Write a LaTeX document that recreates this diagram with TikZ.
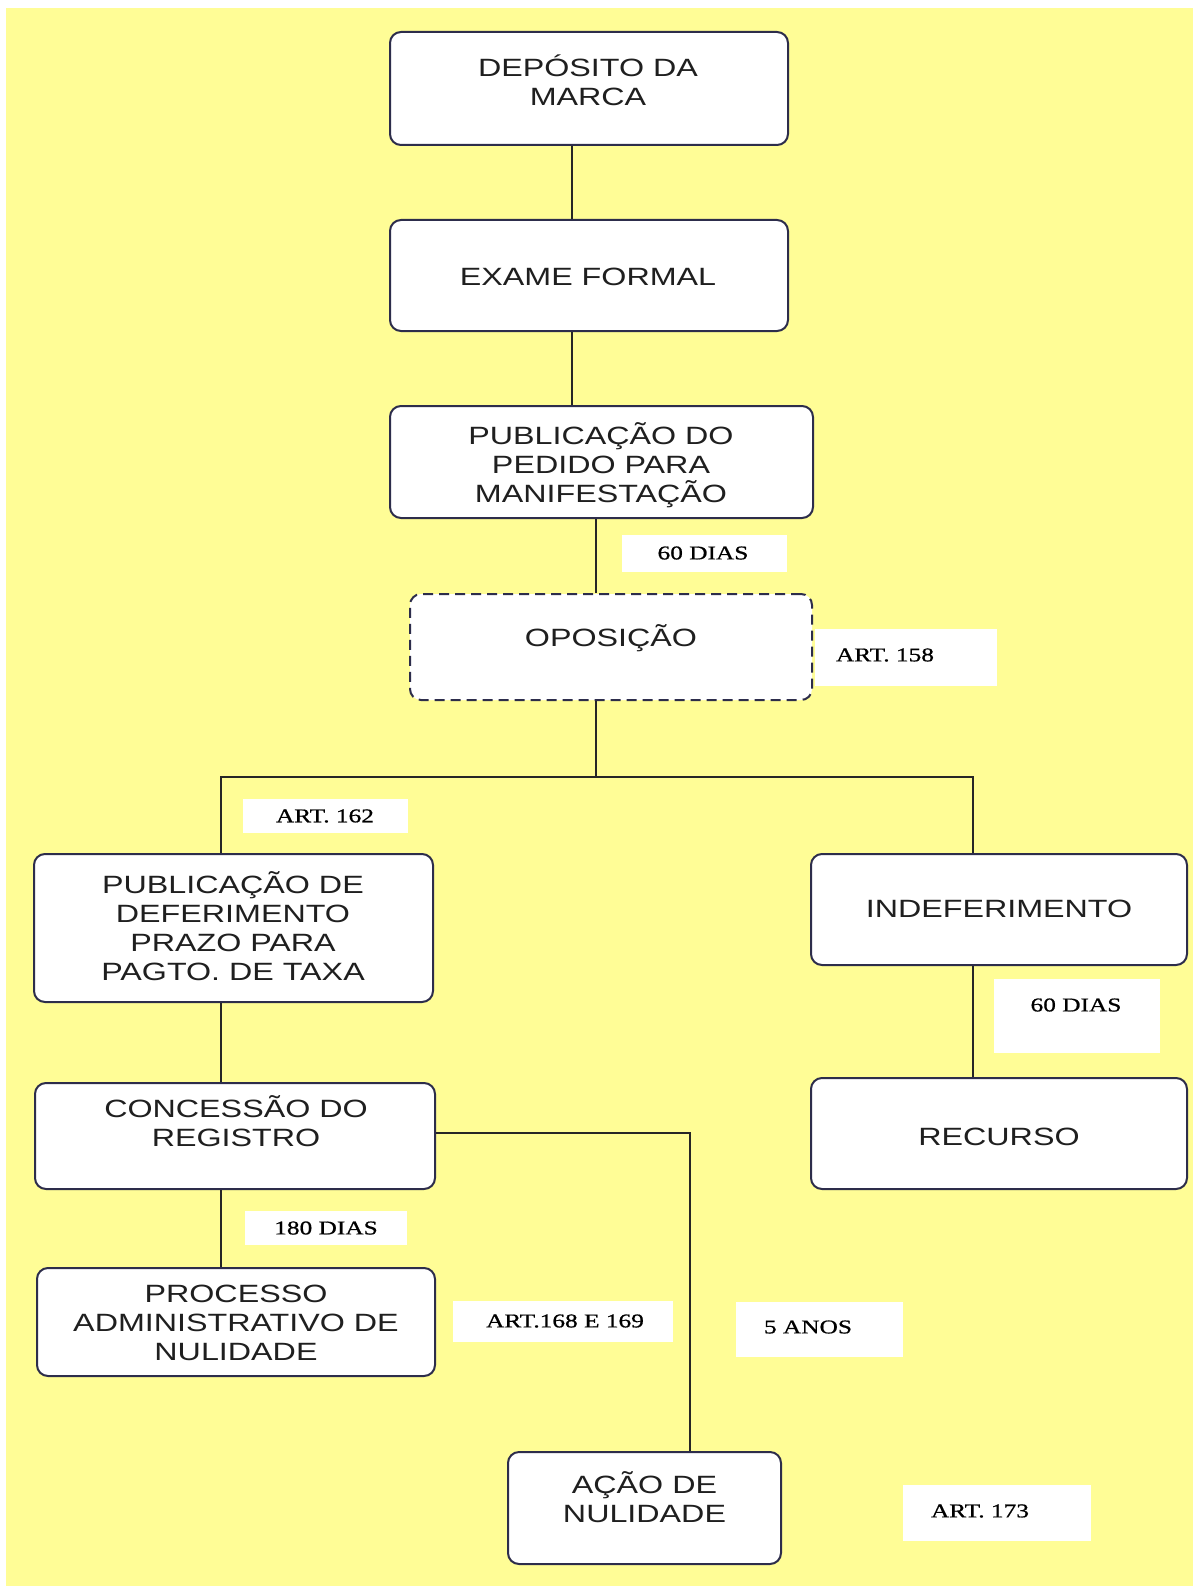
\documentclass[tikz,border=0pt]{standalone}
\usepackage{fontspec}
\newfontfamily\boxfont[FakeStretch=1.29]{Liberation Sans}
\newfontfamily\lblfont[FakeStretch=1.3,FakeBold=0.8]{Liberation Serif}
\definecolor{bgyellow}{RGB}{255,253,150}
\definecolor{boxline}{RGB}{45,45,75}
\begin{document}
\begin{tikzpicture}[x=1pt,y=-1pt,
  box/.style={draw=boxline, line width=2pt, fill=white, rounded corners=11pt, inner sep=0pt},
  btext/.style={font=\boxfont\fontsize{25}{29}\selectfont, align=center, text=black!88, inner sep=0pt},
  lblbox/.style={fill=white, inner sep=0pt},
  ltext/.style={font=\lblfont\fontsize{19.5}{22}\selectfont, text=black, inner sep=0pt},
  conn/.style={line width=2pt, draw=black!85}]
\useasboundingbox (0,0) rectangle (1193,1586);
\fill[white] (0,0) rectangle (1193,1586);
\fill[bgyellow] (6,8) rectangle (1193,1586);

% boxes
\node[box, minimum width=398pt, minimum height=113pt] (b1) at (589,88.5) {};
\node[box, minimum width=398pt, minimum height=111pt] (b2) at (589,275.5) {};
\node[box, minimum width=423pt, minimum height=112pt] (b3) at (601.5,462) {};
\node[box, dash pattern=on 10pt off 6pt, minimum width=402pt, minimum height=106pt] (b4) at (611,647) {};
\node[box, minimum width=399pt, minimum height=148pt] (b5) at (233.5,928) {};
\node[box, minimum width=376pt, minimum height=111pt] (b6) at (999,909.5) {};
\node[box, minimum width=376pt, minimum height=111pt] (b7) at (999,1133.5) {};
\node[box, minimum width=400pt, minimum height=106pt] (b8) at (235,1136) {};
\node[box, minimum width=398pt, minimum height=108pt] (b9) at (236,1322) {};
\node[box, minimum width=273pt, minimum height=112pt] (b10) at (644.5,1508) {};

% box texts
\node[btext] (t1) at (588,80) {DEPÓSITO DA\\MARCA};
\node[btext] (t2) at (588,277) {EXAME FORMAL};
\node[btext] (t3) at (601,465) {PUBLICAÇÃO DO\\PEDIDO PARA\\MANIFESTAÇÃO};
\node[btext] (t4) at (611,638) {OPOSIÇÃO};
\node[btext] (t5) at (233,926) {PUBLICAÇÃO DE\\DEFERIMENTO\\PRAZO PARA\\PAGTO. DE TAXA};
\node[btext] (t6) at (999,909) {INDEFERIMENTO};
\node[btext] (t7) at (999,1137) {RECURSO};
\node[btext] (t8) at (236,1121) {CONCESSÃO DO\\REGISTRO};
\node[btext] (t9) at (236,1323) {PROCESSO\\ADMINISTRATIVO DE\\NULIDADE};
\node[btext] (t10) at (644.5,1497) {AÇÃO DE\\NULIDADE};

% label boxes
\node[lblbox, minimum width=165pt, minimum height=37pt] (l1) at (704.5,553.5) {};
\node[lblbox, minimum width=182pt, minimum height=57pt] (l2) at (906,657.5) {};
\node[lblbox, minimum width=165pt, minimum height=34pt] (l3) at (325.5,816) {};
\node[lblbox, minimum width=166pt, minimum height=74pt] (l4) at (1077,1016) {};
\node[lblbox, minimum width=162pt, minimum height=34pt] (l5) at (326,1228) {};
\node[lblbox, minimum width=220pt, minimum height=41pt] (l6) at (563,1321.5) {};
\node[lblbox, minimum width=167pt, minimum height=55pt] (l7) at (819.5,1329.5) {};
\node[lblbox, minimum width=188pt, minimum height=56pt] (l8) at (997,1513) {};

% label texts
\node[ltext] (lt1) at (703,553) {60 DIAS};
\node[ltext] (lt2) at (885,655) {ART. 158};
\node[ltext] (lt3) at (325,816) {ART. 162};
\node[ltext] (lt4) at (1076,1005) {60 DIAS};
\node[ltext] (lt5) at (326,1228) {180 DIAS};
\node[ltext] (lt6) at (565,1321) {ART.168 E 169};
\node[ltext] (lt7) at (808,1327) {5 ANOS};
\node[ltext] (lt8) at (980,1511) {ART. 173};

% connector coordinates
\coordinate (x12) at (572,0);
\coordinate (x34) at (596,0);
\coordinate (jm) at (596,777);
\coordinate (jl) at (221,777);
\coordinate (jr) at (973,777);
\coordinate (k) at (690,1133);

% connectors
\draw[conn] (b1.south -| x12) -- (b2.north -| x12);
\draw[conn] (b2.south -| x12) -- (b3.north -| x12);
\draw[conn] (b3.south -| x34) -- (b4.north -| x34);
\draw[conn] (b4.south -| jm) -- (jm);
\draw[conn] (b5.north -| jl) -- (jl) -- (jr) -- (b6.north -| jr);
\draw[conn] (b5.south -| jl) -- (b8.north -| jl);
\draw[conn] (b8.south -| jl) -- (b9.north -| jl);
\draw[conn] (b6.south -| jr) -- (b7.north -| jr);
\draw[conn] (b8.east |- k) -- (k) -- (b10.north -| k);
\end{tikzpicture}
\end{document}
